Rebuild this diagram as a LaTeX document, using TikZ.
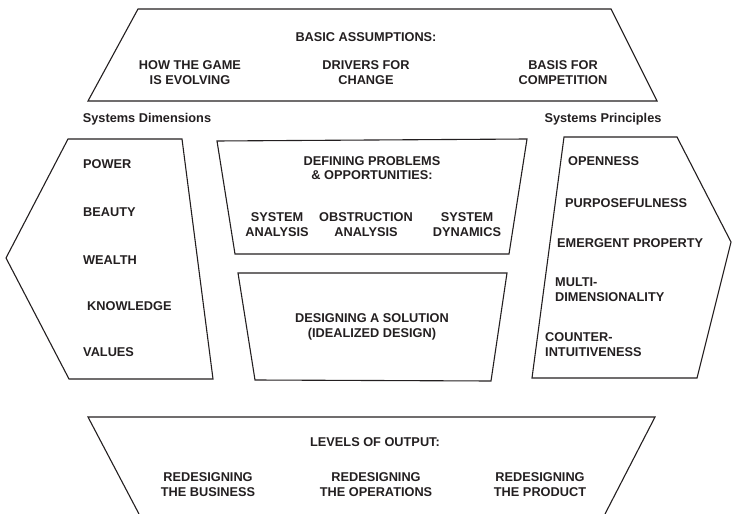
\documentclass[tikz,border=0pt]{standalone}
\usepackage{fontspec}
\setmainfont{Liberation Sans}
\definecolor{ink}{HTML}{231F20}
\begin{document}
\begin{tikzpicture}[x=1bp,y=-1bp,
  outline/.style={draw=ink,line width=1.1bp,line join=miter},
  lbl/.style={inner sep=0pt,anchor=base,text=ink,font=\fontsize{12.8}{14}\selectfont\bfseries},
  lw/.style={lbl,anchor=base west}]
\useasboundingbox (0,0) rectangle (733,514);
% shapes
\draw[outline] (88,101) -- (138,9) -- (611,9) -- (657,101) -- cycle;
\draw[outline] (68,139) -- (182,139) -- (213,379) -- (69,379) -- (6,258) -- cycle;
\draw[outline] (217,141) -- (527,139) -- (509,254) -- (235,254) -- cycle;
\draw[outline] (238,273) -- (507,273) -- (491,381) -- (255,380) -- cycle;
\draw[outline] (564,137) -- (677,137) -- (731,242) -- (697,378) -- (532,378) -- cycle;
\draw[outline] (139,514) -- (88,417) -- (655,417) -- (605,514);
% top
\node[lbl] (ba) at (366,41.5) {BASIC ASSUMPTIONS:};
\node[lbl] (hg1) at (190,69.5) {HOW THE GAME};
\node[lbl] (hg2) at (190,84.5) {IS EVOLVING};
\node[lbl] (dc1) at (366,69.5) {DRIVERS FOR};
\node[lbl] (dc2) at (366,84.5) {CHANGE};
\node[lbl] (bc1) at (563,69.5) {BASIS FOR};
\node[lbl] (bc2) at (563,84.5) {COMPETITION};
% headers
\node[lbl] (sd) at (147,123) {Systems Dimensions};
\node[lbl] (sp) at (603,123) {Systems Principles};
% left list
\node[lw] (pw) at (83,168.5) {POWER};
\node[lw] (be) at (83,216.5) {BEAUTY};
\node[lw] (we) at (83,264.5) {WEALTH};
\node[lw] (kn) at (87,310.5) {KNOWLEDGE};
\node[lw] (va) at (83,356.5) {VALUES};
% middle top
\node[lbl] (dp1) at (372,165.5) {DEFINING PROBLEMS};
\node[lbl] (dp2) at (372,180) {\& OPPORTUNITIES:};
\node[lbl] (sa1) at (277,221.5) {SYSTEM};
\node[lbl] (sa2) at (277,236.5) {ANALYSIS};
\node[lbl] (oa1) at (366,221.5) {OBSTRUCTION};
\node[lbl] (oa2) at (366,236.5) {ANALYSIS};
\node[lbl] (sy1) at (467,221.5) {SYSTEM};
\node[lbl] (sy2) at (467,236.5) {DYNAMICS};
% middle bottom
\node[lbl] (ds1) at (372,322.5) {DESIGNING A SOLUTION};
\node[lbl] (ds2) at (372,337.5) {(IDEALIZED DESIGN)};
% right list
\node[lw] (op) at (568,165.5) {OPENNESS};
\node[lw] (pu) at (565,207.5) {PURPOSEFULNESS};
\node[lw] (em) at (557,247.5) {EMERGENT PROPERTY};
\node[lw] (mu1) at (555,286.5) {MULTI-};
\node[lw] (mu2) at (555,301.5) {DIMENSIONALITY};
\node[lw] (co1) at (545,341.5) {COUNTER-};
\node[lw] (co2) at (545,356.5) {INTUITIVENESS};
% bottom
\node[lbl] (lo) at (375,446.5) {LEVELS OF OUTPUT:};
\node[lbl] (rb1) at (208,481.5) {REDESIGNING};
\node[lbl] (rb2) at (208,496) {THE BUSINESS};
\node[lbl] (ro1) at (376,481.5) {REDESIGNING};
\node[lbl] (ro2) at (376,496) {THE OPERATIONS};
\node[lbl] (rp1) at (540,481.5) {REDESIGNING};
\node[lbl] (rp2) at (540,496) {THE PRODUCT};
\end{tikzpicture}
\end{document}
